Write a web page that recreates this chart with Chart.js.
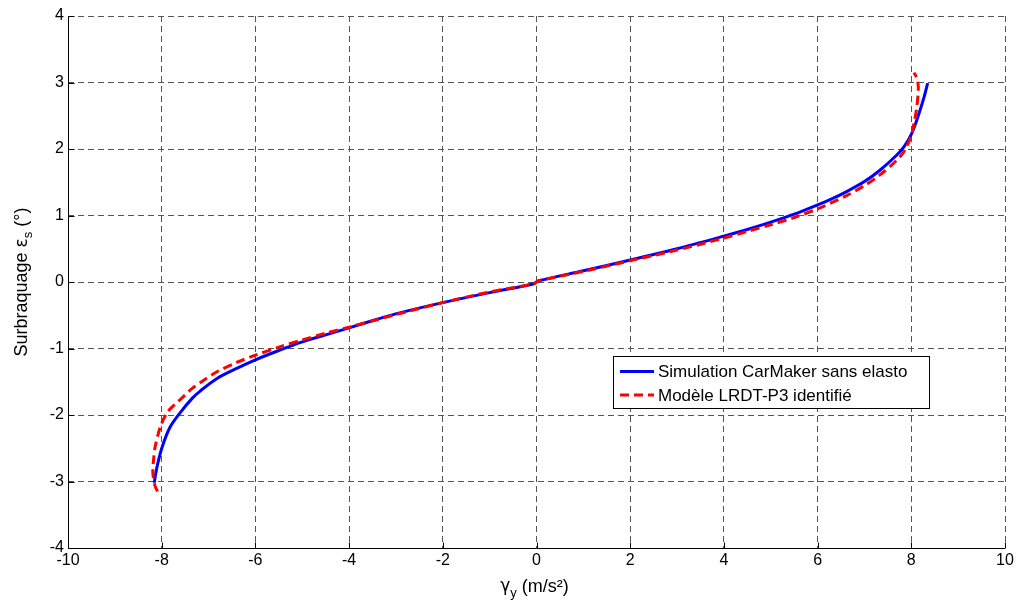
<!DOCTYPE html>
<html>
<head>
<meta charset="utf-8">
<script src="https://cdn.jsdelivr.net/npm/chart.js@4/dist/chart.umd.min.js"></script>
<style>
html,body{margin:0;padding:0;background:#fff;}
#wrap{width:1018px;height:605px;position:relative;}
</style>
</head>
<body>
<div id="wrap"><canvas id="c" width="1018" height="605"></canvas></div>
<script>
// Series 1: Simulation CarMaker sans elasto
const blueX = [-8.16,-8.10,-7.99,-7.82,-7.60,-7.35,-7.18,-6.82,-6.4,-6.0,-5.5,-5.0,-4.5,-4.0,-3.4,-2.9,-2.0,-1.0,-0.07,0.0,0.05,1.0,2.0,3.0,4.0,4.5,5.0,5.5,6.0,6.3,6.62,7.0,7.33,7.69,7.85,8.0,8.1,8.19,8.28,8.35];
const blueY = [-3.02,-2.78,-2.48,-2.18,-1.96,-1.75,-1.64,-1.45,-1.30,-1.17,-1.03,-0.90,-0.795,-0.69,-0.56,-0.46,-0.31,-0.16,-0.03,0.0,0.02,0.17,0.33,0.50,0.69,0.79,0.90,1.02,1.16,1.25,1.36,1.51,1.68,1.91,2.04,2.22,2.40,2.59,2.80,2.99];
// Series 2: Modèle LRDT-P3 identifié
const redX = [-8.09,-8.15,-8.19,-8.17,-8.14,-8.03,-7.89,-7.72,-7.53,-7.35,-7.11,-6.82,-6.4,-6.0,-5.5,-5.0,-4.5,-4.0,-3.0,-2.0,-1.0,-0.07,0.0,0.05,1.0,2.0,3.0,4.0,4.5,5.0,5.5,6.0,6.62,7.0,7.33,7.69,7.85,8.0,8.06,8.11,8.15,8.13,8.06];
const redY = [-3.15,-3.05,-2.85,-2.65,-2.48,-2.18,-1.97,-1.84,-1.72,-1.60,-1.48,-1.35,-1.21,-1.10,-0.98,-0.87,-0.77,-0.68,-0.49,-0.31,-0.15,-0.03,0.0,0.02,0.16,0.32,0.48,0.66,0.76,0.86,0.97,1.10,1.30,1.45,1.61,1.83,1.97,2.20,2.40,2.59,2.89,3.04,3.15];
const seriesLabels = ['Simulation CarMaker sans elasto', 'Modèle LRDT-P3 identifié'];
const xTickStep = 2, yTickStep = 1;
const xRange = [-10, 10], yRange = [-4, 4];

const toPts = (xs, ys) => xs.map((x, i) => ({x: x, y: ys[i]}));
const FONT = 'Arial, "Liberation Sans", sans-serif';
const GREEK = '"DejaVu Sans", sans-serif';

const plotLeft = 68, plotTop = 16, plotRightPad = 13, xAxisH = 57;

const extras = {
  id: 'extras',
  afterDatasetsDraw(chart) {
    const ctx = chart.ctx, a = chart.chartArea;
    const xs = chart.scales.x, ys = chart.scales.y;
    ctx.save();
    ctx.setLineDash([]);
    // solid axis lines (left & bottom)
    ctx.strokeStyle = '#000'; ctx.lineWidth = 1;
    ctx.beginPath();
    const L = Math.round(a.left) + 0.5, B = Math.round(a.bottom) + 0.5;
    ctx.moveTo(L, Math.round(a.top)); ctx.lineTo(L, B);
    ctx.lineTo(Math.round(a.right), B);
    // inward tick marks
    xs.ticks.forEach(t => { const px = Math.round(xs.getPixelForValue(t.value)) + 0.5; ctx.moveTo(px, B); ctx.lineTo(px, B - 6); });
    ys.ticks.forEach(t => { const py = Math.round(ys.getPixelForValue(t.value)) + 0.5; ctx.moveTo(L, py); ctx.lineTo(L + 6, py); });
    ctx.stroke();

    // legend box
    const lx = 613, ly = 356, lw = 316, lh = 52;
    ctx.fillStyle = '#fff'; ctx.fillRect(lx, ly, lw, lh);
    ctx.strokeStyle = '#000'; ctx.lineWidth = 1;
    ctx.strokeRect(lx + 0.5, ly + 0.5, lw, lh);
    const rows = [371.5, 395];
    chart.data.datasets.forEach((ds, i) => {
      ctx.strokeStyle = ds.borderColor; ctx.lineWidth = 3;
      ctx.setLineDash(ds.borderDash || []);
      ctx.beginPath(); ctx.moveTo(620, rows[i]); ctx.lineTo(654, rows[i]); ctx.stroke();
      ctx.setLineDash([]);
      ctx.fillStyle = '#000'; ctx.font = '17px ' + FONT;
      ctx.textAlign = 'left'; ctx.textBaseline = 'middle';
      ctx.fillText(ds.label, 658, rows[i] + 1);
    });

    // x-axis title with subscript
    ctx.fillStyle = '#000';
    ctx.textBaseline = 'alphabetic'; ctx.textAlign = 'left';
    const big = '18px ' + FONT, small = '13px ' + FONT, greek = '17px ' + GREEK;
    ctx.font = greek; const w1 = ctx.measureText('γ').width;
    ctx.font = small; const w2 = ctx.measureText('y').width;
    ctx.font = big; const w3 = ctx.measureText(' (m/s²)').width;
    let x0 = (a.left + a.right) / 2 - (w1 + w2 + w3) / 2 - 2;
    const base = 592;
    ctx.font = greek; ctx.fillText('γ', x0, base - 1);
    ctx.font = small; ctx.fillText('y', x0 + w1, base + 5);
    ctx.font = big; ctx.fillText(' (m/s²)', x0 + w1 + w2, base);

    // y-axis title rotated with subscript
    ctx.save();
    ctx.translate(27, (a.top + a.bottom) / 2);
    ctx.rotate(-Math.PI / 2);
    ctx.font = big; const s1 = ctx.measureText('Surbraquage ').width;
    ctx.font = greek; const s1b = ctx.measureText('ε').width;
    ctx.font = small; const s2 = ctx.measureText('s').width;
    ctx.font = big; const s3 = ctx.measureText(' (°)').width;
    let y0 = -(s1 + s1b + s2 + s3) / 2;
    ctx.font = big; ctx.fillText('Surbraquage ', y0, 0);
    ctx.font = greek; ctx.fillText('ε', y0 + s1, 0);
    ctx.font = small; ctx.fillText('s', y0 + s1 + s1b, 5);
    ctx.font = big; ctx.fillText(' (°)', y0 + s1 + s1b + s2, 0);
    ctx.restore();
    ctx.restore();
  }
};

new Chart(document.getElementById('c'), {
  type: 'scatter',
  data: {
    datasets: [
      { label: seriesLabels[0], data: toPts(blueX, blueY), showLine: true, borderColor: '#0000ff', borderWidth: 3, pointRadius: 0, tension: 0.3, fill: false, order: 1 },
      { label: seriesLabels[1], data: toPts(redX, redY), showLine: true, borderColor: '#ff0000', borderWidth: 3, borderDash: [9, 5], pointRadius: 0, tension: 0.3, fill: false, order: 0 }
    ]
  },
  options: {
    responsive: false,
    animation: false,
    devicePixelRatio: 1,
    layout: { padding: { top: plotTop, right: plotRightPad, left: 0, bottom: 0 } },
    plugins: { legend: { display: false }, tooltip: { enabled: false } },
    scales: {
      x: {
        type: 'linear', min: xRange[0], max: xRange[1],
        afterFit: s => { s.height = xAxisH; },
        ticks: { stepSize: xTickStep, color: '#000', font: { family: FONT, size: 16 }, padding: 3, maxRotation: 0 },
        grid: { color: '#555', lineWidth: 1, drawTicks: false },
        border: { display: false, dash: [6, 4] }
      },
      y: {
        type: 'linear', min: yRange[0], max: yRange[1],
        afterFit: s => { s.width = plotLeft; },
        ticks: { stepSize: yTickStep, color: '#000', font: { family: FONT, size: 16 }, padding: 4 },
        grid: { color: '#555', lineWidth: 1, drawTicks: false },
        border: { display: false, dash: [6, 4] }
      }
    }
  },
  plugins: [extras]
});
</script>
</body>
</html>
